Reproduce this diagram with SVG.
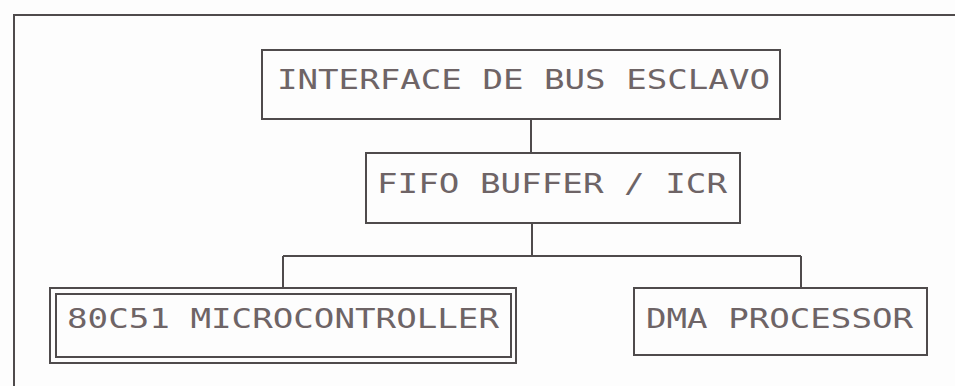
<svg xmlns="http://www.w3.org/2000/svg" width="955" height="386" viewBox="0 0 955 386">
<style>
.box{fill:none;stroke:#4f4b4c;stroke-width:2}
.ln{fill:none;stroke:#4f4b4c;stroke-width:2}
.t{font-family:"DejaVu Sans Mono","Liberation Mono",monospace;font-size:27px;fill:#6e6466}
</style>
<rect width="955" height="386" fill="#fdfdfd"/>
<path class="ln" d="M14,386 V15 H955"/>
<g id="connectors">
<path class="ln" d="M531,119 V153"/>
<path class="ln" d="M532,223 V256 M283,256 H801 M283,256 V288 M801,256 V288"/>
</g>
<g id="n1">
<rect class="box" x="262" y="50" width="518" height="69"/>
<text class="t" x="277" y="89" textLength="493" lengthAdjust="spacingAndGlyphs">INTERFACE DE BUS ESCLAVO</text>
</g>
<g id="n2">
<rect class="box" x="366" y="153" width="374" height="70"/>
<text class="t" x="377" y="193" textLength="350" lengthAdjust="spacingAndGlyphs">FIFO BUFFER / ICR</text>
</g>
<g id="n3">
<rect class="box" x="50" y="288" width="466" height="75"/>
<rect class="box" x="56" y="294" width="455" height="63"/>
<text class="t" x="67" y="328" textLength="432" lengthAdjust="spacingAndGlyphs">80C51 MICROCONTROLLER</text>
</g>
<g id="n4">
<rect class="box" x="634" y="288" width="293" height="67"/>
<text class="t" x="646" y="328" textLength="267" lengthAdjust="spacingAndGlyphs">DMA PROCESSOR</text>
</g>
</svg>
